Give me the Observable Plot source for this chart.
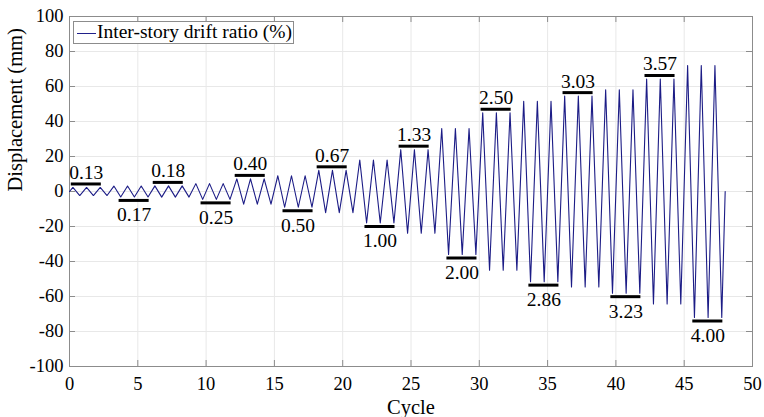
<!DOCTYPE html>
<html>
<head>
<meta charset="utf-8">
<script src="https://cdn.jsdelivr.net/npm/d3@7"></script>
<script src="https://cdn.jsdelivr.net/npm/@observablehq/plot@0.6"></script>
<style>
  html, body { margin: 0; padding: 0; background: #fff; }
  #wrap { position: relative; width: 764px; height: 417px; font-family: "Liberation Serif", "Times New Roman", serif; }
  #legend { position: absolute; left: 73px; top: 21px; width: 221px; height: 23px; border: 1px solid #8c8c8c; background: #fff; box-sizing: border-box; }
  #legend .swatch { position: absolute; left: 3px; top: 11px; width: 19px; height: 0; border-top: 1.2px solid #20208a; }
  #legend .txt { position: absolute; left: 23px; top: -1px; font-size: 19.5px; line-height: 22px; color: #000; white-space: nowrap; }
  #chart svg text { font-family: "Liberation Serif", "Times New Roman", serif; }
</style>
</head>
<body>
<div id="wrap">
  <div id="chart"></div>
  <div id="legend"><span class="swatch"></span><span class="txt">Inter-story drift ratio (%)</span></div>
</div>
<script>
// Drift ratio level labels (%), one per loading level
const driftLabels = ["0.13","0.17","0.18","0.25","0.40","0.50","0.67","1.00","1.33","2.00","2.50","2.86","3.03","3.23","3.57","4.00"];
// Peak displacement amplitude of each level (mm)
const amplitudes = [2.3, 3.1, 3.2, 4.5, 7.2, 9.0, 12.1, 18.0, 23.9, 36.0, 45.0, 51.5, 54.5, 58.1, 64.3, 72.0];
// Cycles per level
const cyclesPerLevel = 3;
// Axis ticks
const xTicks = [0, 5, 10, 15, 20, 25, 30, 35, 40, 45, 50];
const yTicks = [-100, -80, -60, -40, -20, 0, 20, 40, 60, 80, 100];

// Build the zig-zag protocol: each cycle goes 0 -> +A -> -A -> 0
const wave = [{x: 0, y: 0}];
amplitudes.forEach((A, i) => {
  for (let c = 0; c < cyclesPerLevel; c++) {
    const k = i * cyclesPerLevel + c;
    wave.push({x: k + 0.25, y: A});
    wave.push({x: k + 0.75, y: -A});
  }
});
wave.push({x: amplitudes.length * cyclesPerLevel, y: 0});

// Level bars with labels, alternating above / below
const bars = amplitudes.map((A, i) => {
  const up = i % 2 === 0;
  const first = i * cyclesPerLevel + (up ? 0.25 : 0.75);
  const last = first + cyclesPerLevel - 1;
  return {x1: first - 0.12, x2: last + 0.08, xm: (first + last) / 2 - 0.02, y: up ? A + 2 : -(A + 2), up, label: driftLabels[i]};
});

const serif = '"Liberation Serif", "Times New Roman", serif';
const navy = "#1c1c86";
const frameColor = "#8c8c8c";
const xd = [xTicks[0], xTicks[xTicks.length - 1]];
const yd = [yTicks[0], yTicks[yTicks.length - 1]];

const chart = Plot.plot({
  width: 764,
  height: 417,
  marginLeft: 69,
  marginRight: 12,
  marginTop: 16,
  marginBottom: 51,
  style: {fontFamily: serif, fontSize: "18.5px", color: "#000", background: "#fff"},
  x: {domain: xd, ticks: xTicks},
  y: {domain: yd, ticks: yTicks},
  marks: [
    Plot.gridX(xTicks, {stroke: "#e8e8e8", strokeOpacity: 1}),
    Plot.gridY(yTicks, {stroke: "#e8e8e8", strokeOpacity: 1}),
    Plot.axisX(xTicks, {tickSize: 0, tickPadding: 10, label: null, fontSize: 18.5, fontFamily: serif, fontVariant: "normal", tickFormat: d => String(d)}),
    Plot.axisY(yTicks, {tickSize: 0, tickPadding: 6, label: null, fontSize: 18.5, fontFamily: serif, fontVariant: "normal", tickFormat: d => String(d)}),
    // inward ticks on all four sides
    Plot.ruleX(xTicks, {x: d => d, y1: yd[0], y2: yd[0], insetTop: -6, stroke: frameColor}),
    Plot.ruleX(xTicks, {x: d => d, y1: yd[1], y2: yd[1], insetBottom: -6, stroke: frameColor}),
    Plot.ruleY(yTicks, {y: d => d, x1: xd[0], x2: xd[0], insetRight: -6, stroke: frameColor}),
    Plot.ruleY(yTicks, {y: d => d, x1: xd[1], x2: xd[1], insetLeft: -6, stroke: frameColor}),
    Plot.frame({stroke: frameColor}),
    Plot.line(wave, {x: "x", y: "y", stroke: navy, strokeWidth: 1.1}),
    Plot.ruleY(bars, {y: "y", x1: "x1", x2: "x2", stroke: "#000", strokeWidth: 3}),
    Plot.text(bars.filter(d => d.up), {x: "xm", y: "y", text: "label", lineAnchor: "bottom", dy: -5, fontSize: 19.5, fontFamily: serif, fill: "#000"}),
    Plot.text(bars.filter(d => !d.up), {x: "xm", y: "y", text: "label", lineAnchor: "top", dy: 7, fontSize: 19.5, fontFamily: serif, fill: "#000"}),
    Plot.text(["Cycle"], {frameAnchor: "bottom", text: d => d, lineAnchor: "bottom", dy: 47, fontSize: 20.5, fontFamily: serif, fill: "#000"}),
    Plot.text(["Displacement (mm)"], {frameAnchor: "left", text: d => d, rotate: -90, lineAnchor: "bottom", dx: -48, fontSize: 20.5, fontFamily: serif, fill: "#000"})
  ]
});
document.getElementById("chart").appendChild(chart);
</script>
</body>
</html>
